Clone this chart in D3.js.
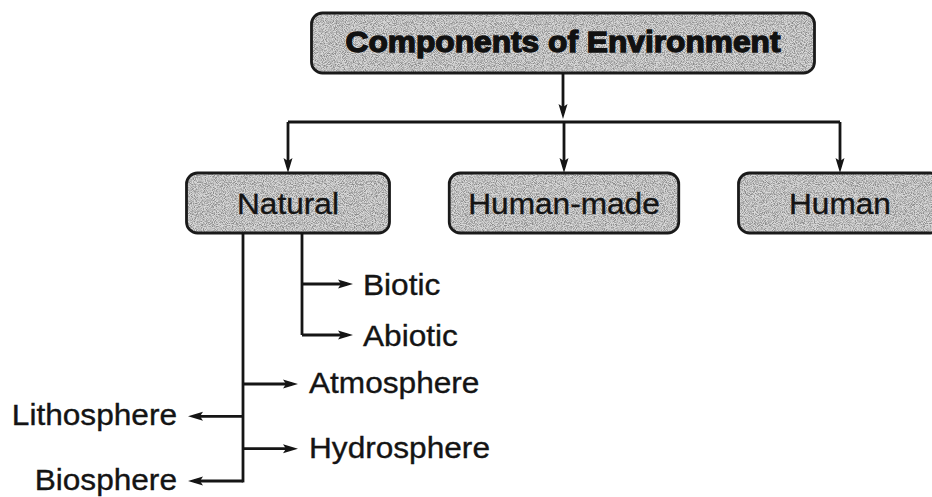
<html>
<head>
<meta http-equiv="Content-Type" content="text/html; charset=UTF-8">
<title>Components of Environment</title>
<style>
	body { margin: 0; background: #fff; }
	.link { stroke: #151515; stroke-width: 2.8; fill: none; }
	.head { fill: #151515; }
	.box { stroke: #1a1a1a; stroke-width: 2.8; }
	.lbl {
		font-family: "Liberation Sans", Arial, Helvetica, sans-serif;
		font-size: 29px;
		fill: #141414;
		stroke: #141414;
		stroke-width: 0.35;
	}
	.title {
		font-family: "Liberation Sans", Arial, Helvetica, sans-serif;
		font-size: 29px;
		font-weight: bold;
		fill: #111;
		stroke: #111;
		stroke-width: 1.3;
	}
</style>
</head>
<body>
<div id="chart"></div>
<script src="https://cdnjs.cloudflare.com/ajax/libs/d3/7.8.5/d3.min.js"></script>
<script>

	// tree content
	var rootLabel = "Components of Environment";
	var categories = ["Natural", "Human-made", "Human"];
	var naturalKinds = ["Biotic", "Abiotic"];
	var spheres = ["Atmosphere", "Lithosphere", "Hydrosphere", "Biosphere"];
	var sphereSide = ["right", "left", "right", "left"];

	var width = 932, height = 497;

	var svg = d3.select("#chart").append("svg")
		.attr("width", width)
		.attr("height", height);

	// speckled grey fill like the printed screen tone
	var defs = svg.append("defs");
	var grain = defs.append("filter")
		.attr("id", "grain")
		.attr("x", 0).attr("y", 0)
		.attr("width", "100%").attr("height", "100%");
	grain.append("feTurbulence")
		.attr("type", "fractalNoise")
		.attr("baseFrequency", 1.1)
		.attr("numOctaves", 1)
		.attr("seed", 7)
		.attr("result", "noise");
	grain.append("feColorMatrix")
		.attr("in", "noise")
		.attr("type", "matrix")
		.attr("values", "0 0 0 0 0.25  0 0 0 0 0.25  0 0 0 0 0.25  3.2 0 0 0 -1.25")
		.attr("result", "dots");
	grain.append("feComposite")
		.attr("in", "dots")
		.attr("in2", "SourceGraphic")
		.attr("operator", "in");

	var xCat = d3.scalePoint().domain(categories).range([288, 840]);
	var yKind = d3.scalePoint().domain(naturalKinds).range([284, 335]);
	var ySphere = d3.scalePoint().domain(spheres).range([384, 481]);

	var topY = 13, topH = 60, busY = 122, catY = 173, catH = 60;
	var headLen = 15, headHalf = 4.5;
	var stretch = 1.09; // the print face runs a bit wider than Arial

	// line ending in a filled arrow head
	function arrow(x1, y1, x2, y2) {
		var dx = x2 - x1, dy = y2 - y1;
		var len = Math.sqrt(dx * dx + dy * dy);
		var ux = dx / len, uy = dy / len;
		var bx = x2 - ux * headLen, by = y2 - uy * headLen;
		svg.append("line")
			.attr("class", "link")
			.attr("x1", x1).attr("y1", y1)
			.attr("x2", x2 - ux * 6).attr("y2", y2 - uy * 6);
		svg.append("path")
			.attr("class", "head")
			.attr("d", "M" + x2 + "," + y2 +
				"L" + (bx - uy * headHalf) + "," + (by + ux * headHalf) +
				"L" + (bx + ux * 3) + "," + (by + uy * 3) +
				"L" + (bx + uy * headHalf) + "," + (by - ux * headHalf) + "Z");
	}

	function line(x1, y1, x2, y2) {
		svg.append("line")
			.attr("class", "link")
			.attr("x1", x1).attr("y1", y1)
			.attr("x2", x2).attr("y2", y2);
	}

	function label(x, y, txt, anchor) {
		var t = svg.append("text")
			.attr("class", "lbl")
			.attr("x", x)
			.attr("y", y)
			.attr("text-anchor", anchor || "start")
			.text(txt);
		var w = t.node().getComputedTextLength() * stretch;
		t.attr("textLength", w).attr("lengthAdjust", "spacingAndGlyphs");
		return w;
	}

	function box(cx, y, w, h) {
		var g = svg.append("g");
		g.append("rect")
			.attr("x", cx - w / 2).attr("y", y)
			.attr("width", w).attr("height", h)
			.attr("rx", 11)
			.attr("fill", "#d9d9d9");
		g.append("rect")
			.attr("x", cx - w / 2).attr("y", y)
			.attr("width", w).attr("height", h)
			.attr("rx", 11)
			.attr("fill", "#000")
			.attr("filter", "url(#grain)");
		g.append("rect")
			.attr("class", "box")
			.attr("x", cx - w / 2).attr("y", y)
			.attr("width", w).attr("height", h)
			.attr("rx", 11)
			.attr("fill", "none");
		return g;
	}

	// root
	var rootX = xCat("Human-made") - 1;
	var titleLen = 435;
	box(rootX, topY, titleLen + 68, topH);
	svg.append("text")
		.attr("class", "title")
		.attr("x", rootX)
		.attr("y", topY + topH / 2 + 9)
		.attr("text-anchor", "middle")
		.attr("textLength", titleLen)
		.attr("lengthAdjust", "spacingAndGlyphs")
		.text(rootLabel);

	// root -> bus -> categories
	arrow(rootX, topY + topH, rootX, busY - 3);
	line(xCat(categories[0]), busY, xCat(categories[categories.length - 1]), busY);
	categories.forEach(function (c) {
		arrow(xCat(c), busY, xCat(c), catY);
	});

	categories.forEach(function (c) {
		var tw = label(xCat(c), catY + catH / 2 + 11, c, "middle");
		var g = box(xCat(c), catY, Math.max(203, tw + 38), catH);
		g.lower();
	});

	// branches out of Natural
	var natX = xCat("Natural");
	var trunkX = natX - 45;
	var kindX = natX + 14;
	var natBottom = catY + catH;

	line(kindX, natBottom, kindX, yKind(naturalKinds[naturalKinds.length - 1]));
	naturalKinds.forEach(function (k) {
		arrow(kindX, yKind(k), kindX + 51, yKind(k));
		label(kindX + 61, yKind(k) + 11, k);
	});

	line(trunkX, natBottom, trunkX, ySphere(spheres[spheres.length - 1]) + 1.4);
	spheres.forEach(function (s, i) {
		var dir = sphereSide[i] == "right" ? 1 : -1;
		var tip = trunkX + dir * 55;
		arrow(trunkX, ySphere(s), tip, ySphere(s));
		label(tip + dir * 11, ySphere(s) + 9, s, dir > 0 ? "start" : "end");
	});

</script>
</body>
</html>
